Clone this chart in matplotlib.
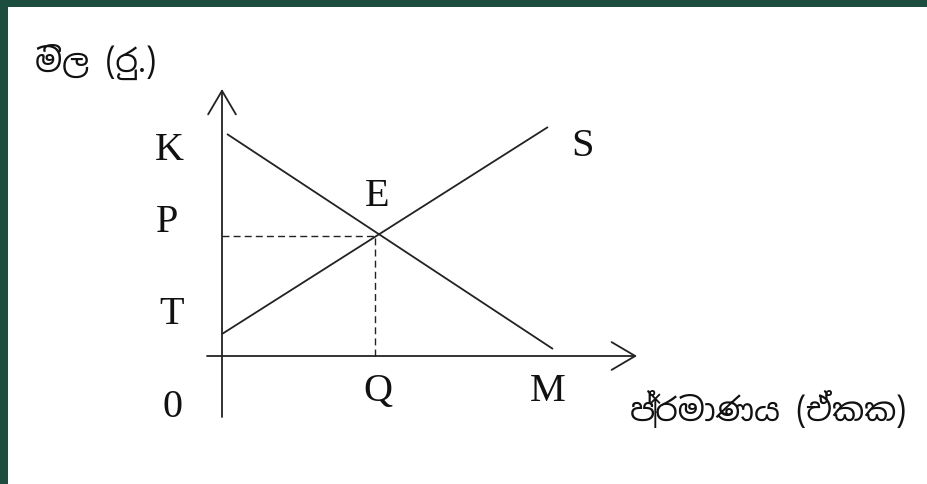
import matplotlib
matplotlib.use("Agg")
import matplotlib.pyplot as plt
from matplotlib import font_manager
from matplotlib.ft2font import FT2Font

# ---- data ----
demand_q = [5, 331]
demand_p = [222, 7]
supply_q = [0, 326]
supply_p = [22, 229]
eq_q = 153
eq_p = 120
price_labels = ["K", "P", "T", "0"]
qty_labels = ["Q", "M"]
y_title = "මිල (රු.)"
x_title = "ප්‍රමාණය (ඒකක)"

# ---- find a font with Sinhala glyphs (prefer Noto Sans Sinhala) ----
cands = []
for path in font_manager.findSystemFonts():
    try:
        if 0x0DB8 in FT2Font(path).get_charmap():
            cands.append(path)
    except Exception:
        pass
def rank(p):
    n = p.lower()
    if "notosanssinhala" in n:
        return 0
    if "notoserifsinhala" in n:
        return 1
    if "unifont" in n:
        return 9
    return 5
cands.sort(key=rank)
sinhala_fp = cands[0] if cands else None

W, H = 927, 485
fig = plt.figure(figsize=(W / 100, H / 100), dpi=100)
fig.patch.set_facecolor("#1d4d3e")
bg = fig.add_axes([8 / W, 0, 1 - 8 / W, 1 - 8 / H], zorder=-5)
bg.set_facecolor("white")
bg.set_xticks([]); bg.set_yticks([])
for s in bg.spines.values():
    s.set_visible(False)

ax = fig.add_axes([0, 0, 1, 1], zorder=1)
ax.set_xlim(-222, W - 222)
ax.set_ylim(-(H - 357), 357)
ax.axis("off")
ax.patch.set_alpha(0)

lc = "#222222"
lw = 1.3
arrow = dict(arrowstyle="->,head_length=0.85,head_width=0.5", lw=lw, color=lc,
             mutation_scale=20, shrinkA=0, shrinkB=0)
# axes
ax.annotate("", xy=(0, 267), xytext=(0, -61), arrowprops=arrow)
ax.annotate("", xy=(415, 0), xytext=(-15, 0), arrowprops=arrow)

# curves
ax.plot(demand_q, demand_p, color=lc, lw=lw, solid_capstyle="butt")
ax.plot(supply_q, supply_p, color=lc, lw=lw, solid_capstyle="butt")
ax.plot([0, eq_q], [eq_p, eq_p], color=lc, lw=1.0, ls=(0, (5, 3)))
ax.plot([eq_q, eq_q], [0, eq_p], color=lc, lw=1.0, ls=(0, (5, 3)))

serif = dict(family="Liberation Serif", fontsize=29, color="#111111",
             ha="center", va="center")
ax.text(-53, 206, price_labels[0], **serif)
ax.text(-55, 135, price_labels[1], **serif)
ax.text(-50, 42, price_labels[2], **serif)
ax.text(-49, -51, price_labels[3], **serif)
ax.text(156, -35, qty_labels[0], **serif)
ax.text(326, -35, qty_labels[1], **serif)
ax.text(155, 160, "E", **serif)
ax.text(360, 210, "S", **serif)

if sinhala_fp:
    fp = font_manager.FontProperties(fname=sinhala_fp, size=23)
else:
    fp = font_manager.FontProperties(family=["Noto Sans", "DejaVu Sans"], size=23)
ax.text(-187, 295, y_title, fontproperties=fp, color="#111111", ha="left", va="center")
ax.text(408, -53, x_title, fontproperties=fp, color="#111111", ha="left", va="center")

fig.savefig("out.png", dpi=100, facecolor=fig.get_facecolor())
